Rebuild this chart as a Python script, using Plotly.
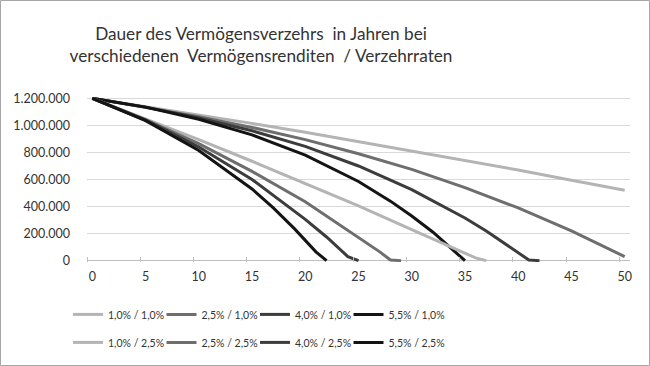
import plotly.graph_objects as go

# ---- data (wealth in EUR by year) ----
labels_1 = ["1,0% / 1,0%", "2,5% / 1,0%", "4,0% / 1,0%", "5,5% / 1,0%"]
labels_2 = ["1,0% / 2,5%", "2,5% / 2,5%", "4,0% / 2,5%", "5,5% / 2,5%"]

x_10_10 = [0, 5, 10, 15, 20, 25, 30, 35, 40, 45, 50]
w_10_10 = [1200000, 1140000, 1075000, 1015000, 950000, 880000, 815000, 740000, 670000, 595000, 520000]
x_25_10 = [0, 5, 10, 15, 20, 25, 30, 35, 40, 45, 50]
w_25_10 = [1200000, 1135000, 1065000, 985000, 895000, 790000, 675000, 540000, 390000, 220000, 30000]
x_40_10 = [0, 5, 10, 15, 20, 25, 30, 35, 37, 39, 40, 41, 42]
w_40_10 = [1200000, 1135000, 1055000, 960000, 845000, 700000, 525000, 315000, 220000, 115000, 60000, 5000, 0]
x_55_10 = [0, 5, 10, 15, 20, 25, 28, 30, 32, 34, 35]
w_55_10 = [1200000, 1135000, 1045000, 930000, 780000, 585000, 440000, 330000, 210000, 70000, 0]

x_10_25 = [0, 5, 10, 15, 20, 25, 30, 33, 35, 36, 37]
w_10_25 = [1200000, 1050000, 895000, 735000, 570000, 405000, 230000, 125000, 55000, 20000, 0]
x_25_25 = [0, 5, 10, 15, 20, 25, 27, 28, 29]
w_25_25 = [1200000, 1040000, 865000, 660000, 435000, 175000, 65000, 5000, 0]
x_40_25 = [0, 5, 10, 15, 20, 22, 24, 25]
w_40_25 = [1200000, 1040000, 840000, 600000, 305000, 175000, 30000, 0]
x_55_25 = [0, 5, 10, 15, 17, 19, 21, 22]
w_55_25 = [1200000, 1035000, 815000, 530000, 390000, 235000, 65000, 0]

x_ticks = [0, 5, 10, 15, 20, 25, 30, 35, 40, 45, 50]
y_ticks = [0, 200000, 400000, 600000, 800000, 1000000, 1200000]
y_tick_text = ["0", "200.000", "400.000", "600.000", "800.000", "1.000.000", "1.200.000"]

colors = ["#b4b4b4", "#6e6e6e", "#3c3c3c", "#141414"]
FONT = "Lato"

group1 = [(x_10_10, w_10_10), (x_25_10, w_25_10), (x_40_10, w_40_10), (x_55_10, w_55_10)]
group2 = [(x_10_25, w_10_25), (x_25_25, w_25_25), (x_40_25, w_40_25), (x_55_25, w_55_25)]
legend_ids = ["legend", "legend2", "legend3", "legend4"]

fig = go.Figure()
for i, ((xs, ys), name, col) in enumerate(zip(group1, labels_1, colors)):
    fig.add_trace(go.Scatter(x=xs, y=ys, mode="lines", name=name,
                             line=dict(color=col, width=3),
                             legend=legend_ids[i], legendgroup="a%d" % i))
for i, ((xs, ys), name, col) in enumerate(zip(group2, labels_2, colors)):
    fig.add_trace(go.Scatter(x=xs, y=ys, mode="lines", name=name,
                             line=dict(color=col, width=3),
                             legend=legend_ids[i], legendgroup="b%d" % i))

W, H = 650, 366
ml, mr, mt, mb = 87, 20, 97, 104
pw, ph = W - ml - mr, H - mt - mb

def px_x(p):
    return (p - ml) / pw

def px_y(p):
    return (H - mb - p) / ph

legend_common = dict(orientation="v", xanchor="left", yanchor="middle",
                     font=dict(family=FONT, size=10.5, color="#333333"),
                     bgcolor="rgba(0,0,0,0)", itemwidth=30,
                     tracegroupgap=9, y=px_y(328.4))
legend_text_x = [110, 203.5, 297, 390.5]

layout_legends = {}
for lid, tx in zip(legend_ids, legend_text_x):
    layout_legends[lid] = dict(x=px_x(tx - 42), **legend_common)

fig.update_layout(
    width=W, height=H,
    margin=dict(l=ml, r=mr, t=mt, b=mb, autoexpand=False),
    paper_bgcolor="white", plot_bgcolor="white",
    font=dict(family=FONT, color="#333333"),
    title=dict(text="Dauer des Vermögensverzehrs  in Jahren bei<br>verschiedenen  Vermögensrenditen  / Verzehrraten",
               x=261 / W, xanchor="center", xref="container",
               y=1 - 39.5 / H, yanchor="top", yref="container",
               font=dict(family=FONT, size=17.2, color="#333333")),
    xaxis=dict(range=[-0.5, 50.5], tickmode="array", tickvals=x_ticks,
               ticktext=[str(v) for v in x_ticks], ticks="", showgrid=False,
               showline=False, zeroline=False, ticklabelstandoff=5,
               tickfont=dict(family=FONT, size=12.5, color="#333333"),
               minor=dict(tickmode="array", tickvals=[v - 0.5 for v in x_ticks],
                          ticks="inside", ticklen=5, tickcolor="#bfbfbf", tickwidth=1,
                          showgrid=False),
               fixedrange=True),
    yaxis=dict(range=[-10000, 1210000], tickmode="array", tickvals=y_ticks,
               ticktext=y_tick_text, ticks="", showgrid=True, gridcolor="#d9d9d9",
               gridwidth=1, showline=False, zeroline=True, zerolinecolor="#bfbfbf",
               zerolinewidth=1, ticklabelstandoff=16,
               tickfont=dict(family=FONT, size=12.5, color="#333333"),
               fixedrange=True),
    shapes=[dict(type="rect", xref="paper", yref="paper",
                 x0=px_x(0.5), x1=px_x(649.5), y0=px_y(365.5), y1=px_y(0.5),
                 line=dict(color="#a6a6a6", width=1), fillcolor="rgba(0,0,0,0)",
                 layer="below")],
    **layout_legends,
)

fig.write_html("out.html", config={"displayModeBar": False},
               post_script="document.body.style.margin='0';")
